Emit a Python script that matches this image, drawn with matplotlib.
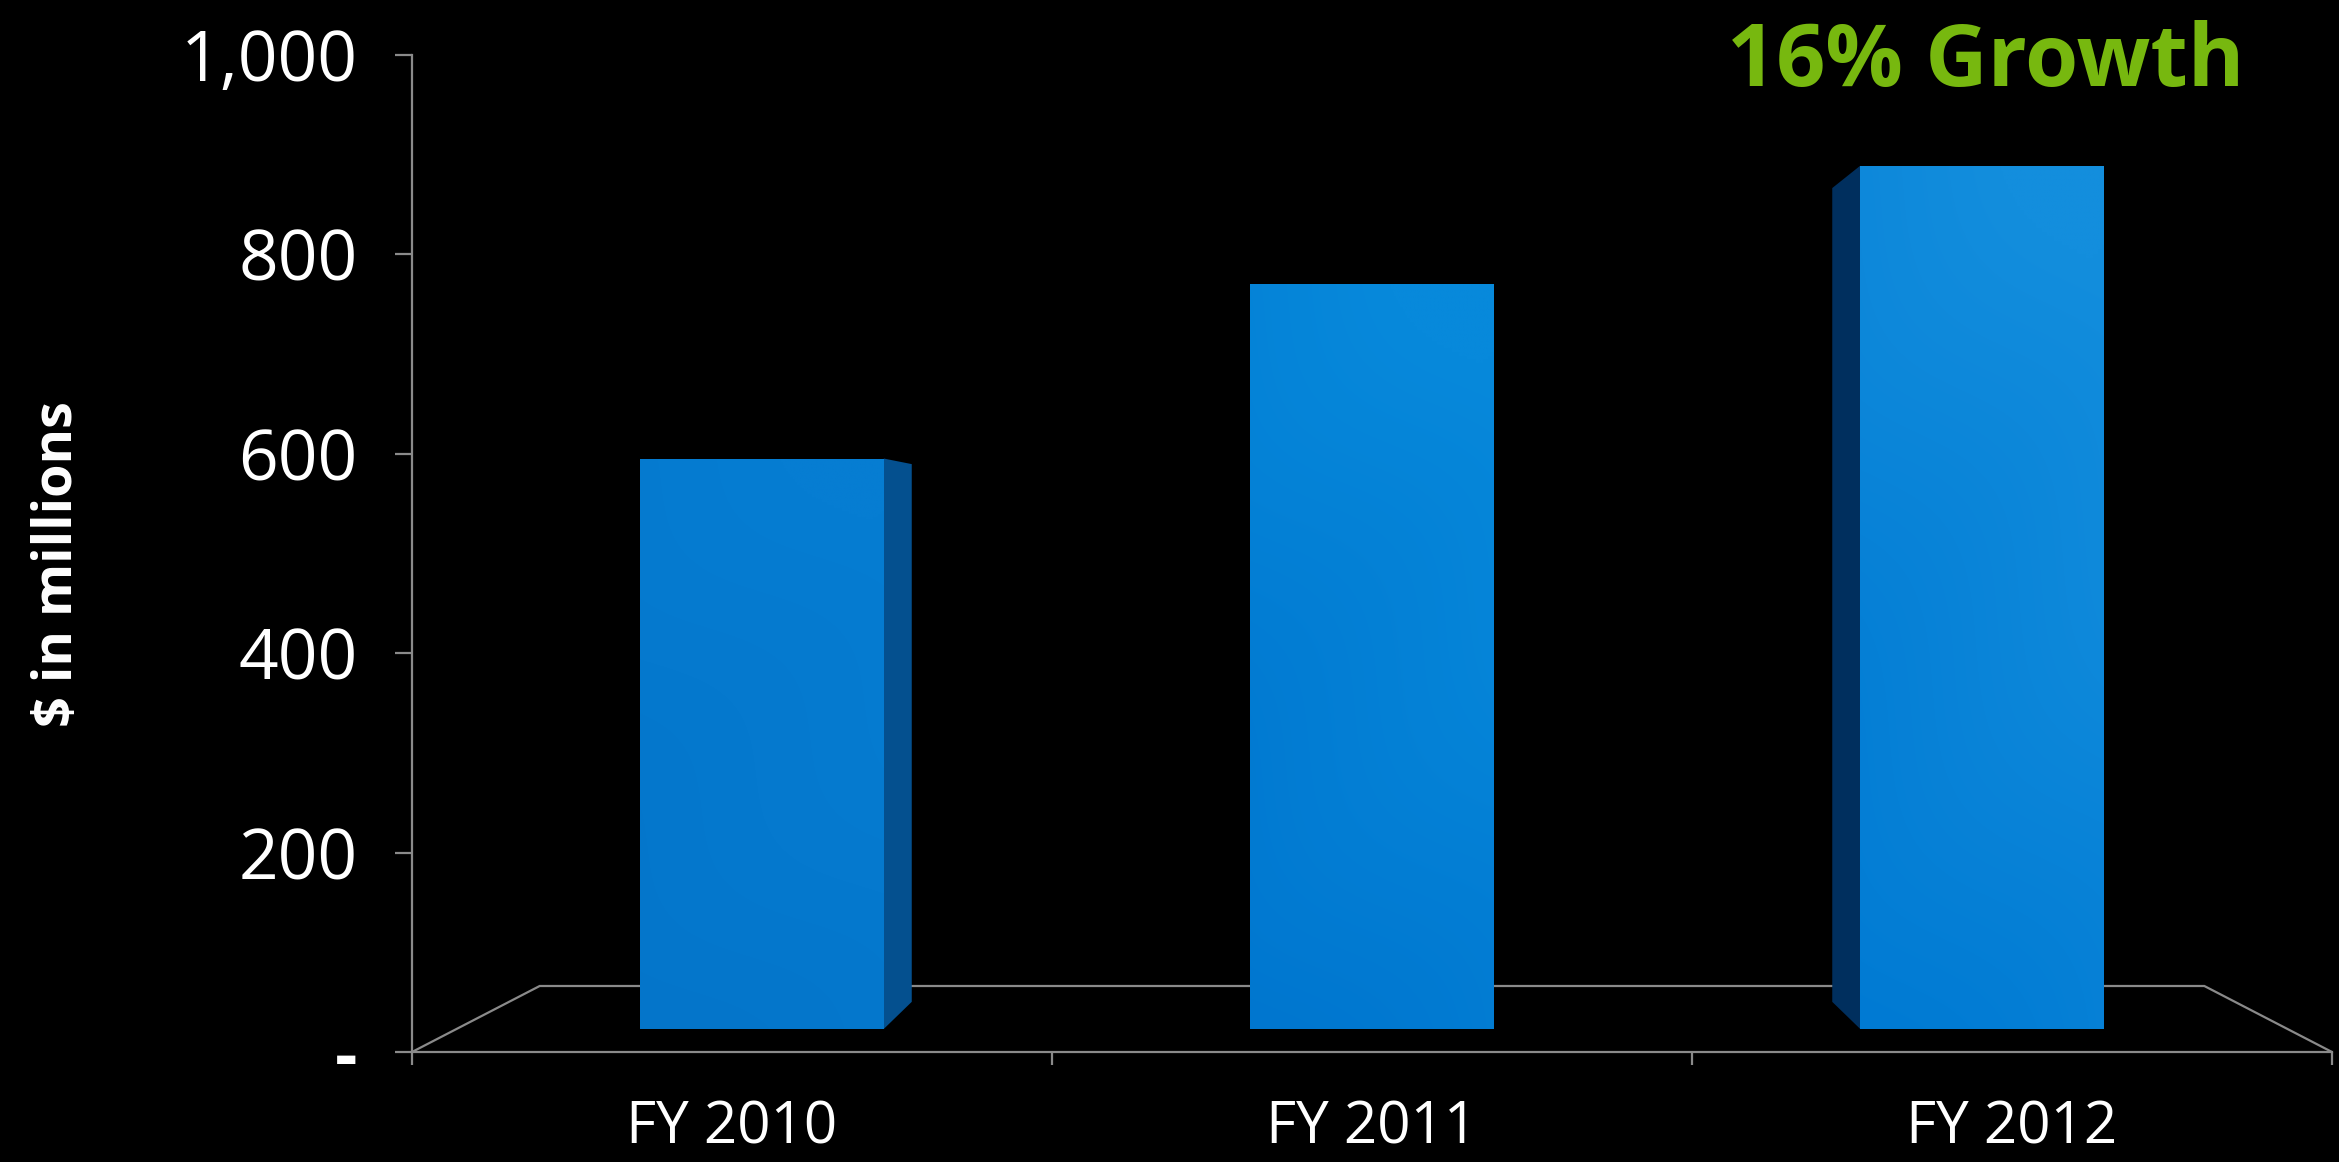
"""Revenue by fiscal year as 3-D perspective columns on a black slide."""

import matplotlib

matplotlib.use("Agg")
import matplotlib.pyplot as plt
import numpy as np
from matplotlib.colors import to_rgb
from matplotlib.patches import Polygon

CATEGORIES = ["FY 2010", "FY 2011", "FY 2012"]
REVENUE = [600, 784, 908]  # $ in millions
Y_TICKS = [0, 200, 400, 600, 800, 1000]
Y_TICK_LABELS = ["-", "200", "400", "600", "800", "1,000"]
Y_LABEL = "$ in millions"
CALLOUT = "16% Growth"

# bar face colours: (shadow end, highlight end) of the front gradient, side face
FRONT_COLORS = [("#0475ca", "#067dd2"), ("#0076cf", "#0789db"), ("#007ad3", "#138edd")]
SIDE_COLORS = ["#04508f", "#04508f", "#002f5e"]
AXIS_GREY = "#8a8a8a"
GREEN = "#77b80f"

# perspective of the 3-D floor (depth 0 = front edge, 1 = back edge)
RISE = 66.2      # value units the floor climbs from front to back
SHRINK = 0.133   # horizontal/vertical shrink at the back edge
CENTER = 1.0     # vanishing column (category units)
BAR_HALF = 0.2
BAR_D0, BAR_D1 = 0.35, 0.76


def project(x, v, d):
    s = 1 - SHRINK * d
    return CENTER + (x - CENTER) * s, RISE * d + v * s


def gradient_face(ax, verts, c_dark, c_light, z):
    poly = Polygon(verts, closed=True, facecolor="none", edgecolor="none", zorder=z)
    ax.add_patch(poly)
    xs, ys = zip(*verts)
    x0, x1, y0, y1 = min(xs), max(xs), min(ys), max(ys)
    n = 200
    gx, gy = np.meshgrid(np.linspace(0, 1, n), np.linspace(0, 1, n))
    t = np.clip(0.35 * gx + 0.75 * gy, 0, 1)
    # faint diagonal bands like the original glossy fill
    t = t + 0.06 * np.sin((gy * 3.2 - gx * 0.9) * np.pi)
    t = np.clip(t, 0, 1)[..., None]
    a, b = np.array(to_rgb(c_dark)), np.array(to_rgb(c_light))
    img = a + (b - a) * t
    im = ax.imshow(img, extent=[x0, x1, y0, y1], origin="lower",
                   aspect="auto", zorder=z, interpolation="bilinear")
    im.set_clip_path(poly)


def main() -> None:
    plt.rcParams["font.family"] = ["Open Sans", "DejaVu Sans"]
    W, H = 2339, 1162
    fig = plt.figure(figsize=(W / 100, H / 100), dpi=100, facecolor="black")
    ax = fig.add_axes([412 / W, (H - 1052) / H, (2332 - 412) / W, (1052 - 55) / H])
    ax.set_facecolor("black")

    n = len(CATEGORIES)
    xl, xr = -0.5, n - 0.5

    # floor outline (front edge is the category axis)
    bl = project(xl, 0, 1)
    br = project(xr, 0, 1)
    ax.plot([xl, bl[0], br[0], xr], [0, bl[1], br[1], 0],
            color=AXIS_GREY, lw=1.6, zorder=1, solid_joinstyle="miter")

    for i, v in enumerate(REVENUE):
        left, right = i - BAR_HALF, i + BAR_HALF
        # side face that faces the viewer
        if i < CENTER:
            sx = right
        elif i > CENTER:
            sx = left
        else:
            sx = None
        if sx is not None:
            side = [project(sx, 0, BAR_D0), project(sx, 0, BAR_D1),
                    project(sx, v, BAR_D1), project(sx, v, BAR_D0)]
            ax.add_patch(Polygon(side, closed=True, facecolor=SIDE_COLORS[i],
                                 edgecolor="none", zorder=3))
        front = [project(left, 0, BAR_D0), project(right, 0, BAR_D0),
                 project(right, v, BAR_D0), project(left, v, BAR_D0)]
        gradient_face(ax, front, *FRONT_COLORS[i], z=4)

    ax.set_xlim(xl, xr)
    ax.set_ylim(0, 1000)

    for side in ("top", "right"):
        ax.spines[side].set_visible(False)
    for side in ("left", "bottom"):
        ax.spines[side].set_color(AXIS_GREY)
        ax.spines[side].set_linewidth(1.6)
        ax.spines[side].set_zorder(2)

    ax.set_yticks(Y_TICKS)
    ax.set_yticklabels(Y_TICK_LABELS)
    ax.tick_params(axis="y", colors=AXIS_GREY, length=12, width=1.6, pad=27,
                   labelcolor="white", labelsize=50)
    # the zero label is a wide dash in the original
    ax.get_yticklabels()[0].set_fontweight("bold")

    ax.set_xticks(range(n))
    ax.set_xticklabels(CATEGORIES)
    ax.set_xticks(np.arange(xl, xr + 0.01, 1.0), minor=True)
    ax.tick_params(axis="x", which="major", length=0, pad=34,
                   labelcolor="white", labelsize=42)
    ax.tick_params(axis="x", which="minor", colors=AXIS_GREY, length=9,
                   width=1.6, direction="out")

    fig.text(58 / W, 1 - 564 / H, Y_LABEL, rotation=90, color="white",
             fontsize=39, fontweight="bold", ha="center", va="center")
    fig.text(2244 / W, 1 - 86 / H, CALLOUT, color=GREEN, fontsize=62,
             fontweight="bold", ha="right", va="baseline")

    fig.savefig("out.png", dpi=100, facecolor="black")


if __name__ == "__main__":
    main()
